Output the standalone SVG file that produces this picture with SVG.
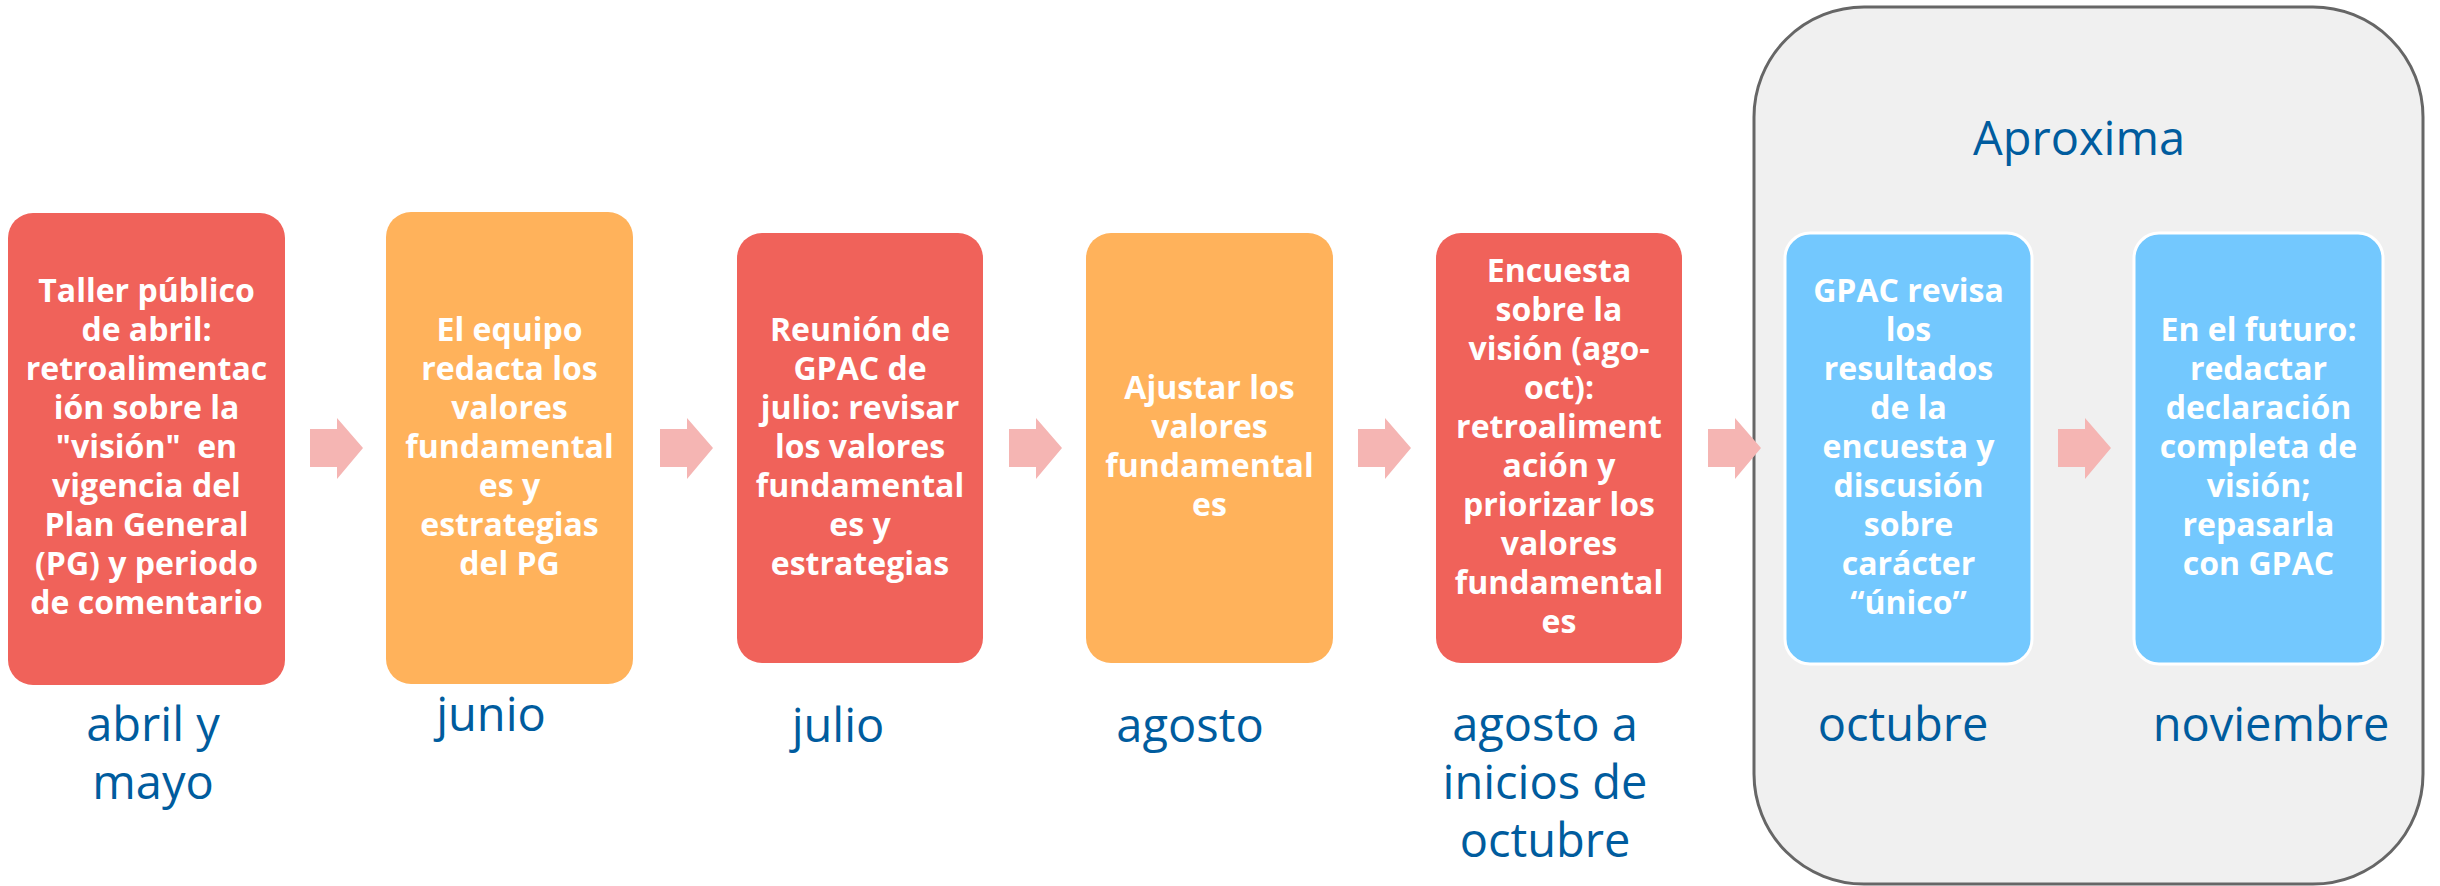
<svg xmlns="http://www.w3.org/2000/svg" xmlns:xlink="http://www.w3.org/1999/xlink" width="2440" height="886" viewBox="0 0 2440 886">
<style>
.red{fill:#f0625a}
.org{fill:#ffb25b}
.blu{fill:#73c8fe;stroke:#ffffff;stroke-width:3}
.bt{font-family:"Open Sans","Liberation Sans",sans-serif;font-weight:700;font-size:32px;fill:#ffffff;text-anchor:middle}
.mt{font-family:"Open Sans","Liberation Sans",sans-serif;font-weight:400;font-size:47px;fill:#005c9e;text-anchor:middle}
.arr{fill:#f5b5b3}
</style>
<defs>
<path id="arrow" d="M0,429 L27,429 L27,418 L53,448 L27,479 L27,467 L0,467 Z"/>
</defs>
<rect width="2440" height="886" fill="#ffffff"/>
<g id="group-aproxima">
<rect x="1754" y="7" width="669" height="877" rx="110" ry="110" fill="#f0f0f0" stroke="#666666" stroke-width="3"/>
<text class="mt" x="2079" y="155">Aproxima</text>
</g>
<g id="n1">
<rect class="red" x="8" y="213" width="277" height="472" rx="25"/>
<text class="bt" x="146.5" y="302"><tspan x="146.5" dy="0">Taller público</tspan><tspan x="146.5" dy="39">de abril:</tspan><tspan x="146.5" dy="39">retroalimentac</tspan><tspan x="146.5" dy="39">ión sobre la</tspan><tspan x="146.5" dy="39" xml:space="preserve">"visión"  en</tspan><tspan x="146.5" dy="39">vigencia del</tspan><tspan x="146.5" dy="39">Plan General</tspan><tspan x="146.5" dy="39">(PG) y periodo</tspan><tspan x="146.5" dy="39">de comentario</tspan></text>
<text class="mt" x="153" y="741"><tspan x="153" dy="0">abril y</tspan><tspan x="153" dy="58">mayo</tspan></text>
</g>
<g id="n2">
<rect class="org" x="386" y="212" width="247" height="472" rx="25"/>
<text class="bt" x="509.5" y="341"><tspan x="509.5" dy="0">El equipo</tspan><tspan x="509.5" dy="39">redacta los</tspan><tspan x="509.5" dy="39">valores</tspan><tspan x="509.5" dy="39">fundamental</tspan><tspan x="509.5" dy="39">es y</tspan><tspan x="509.5" dy="39">estrategias</tspan><tspan x="509.5" dy="39">del PG</tspan></text>
<text class="mt" x="491" y="731">junio</text>
</g>
<g id="n3">
<rect class="red" x="737" y="233" width="246" height="430" rx="25"/>
<text class="bt" x="860" y="341"><tspan x="860" dy="0">Reunión de</tspan><tspan x="860" dy="39">GPAC de</tspan><tspan x="860" dy="39">julio: revisar</tspan><tspan x="860" dy="39">los valores</tspan><tspan x="860" dy="39">fundamental</tspan><tspan x="860" dy="39">es y</tspan><tspan x="860" dy="39">estrategias</tspan></text>
<text class="mt" x="838" y="742">julio</text>
</g>
<g id="n4">
<rect class="org" x="1086" y="233" width="247" height="430" rx="25"/>
<text class="bt" x="1209.5" y="399"><tspan x="1209.5" dy="0">Ajustar los</tspan><tspan x="1209.5" dy="39">valores</tspan><tspan x="1209.5" dy="39">fundamental</tspan><tspan x="1209.5" dy="39">es</tspan></text>
<text class="mt" x="1190" y="742">agosto</text>
</g>
<g id="n5">
<rect class="red" x="1436" y="233" width="246" height="430" rx="25"/>
<text class="bt" x="1559" y="282"><tspan x="1559" dy="0">Encuesta</tspan><tspan x="1559" dy="39">sobre la</tspan><tspan x="1559" dy="39">visión (ago-</tspan><tspan x="1559" dy="39">oct):</tspan><tspan x="1559" dy="39">retroaliment</tspan><tspan x="1559" dy="39">ación y</tspan><tspan x="1559" dy="39">priorizar los</tspan><tspan x="1559" dy="39">valores</tspan><tspan x="1559" dy="39">fundamental</tspan><tspan x="1559" dy="39">es</tspan></text>
<text class="mt" x="1545" y="741"><tspan x="1545" dy="0">agosto a</tspan><tspan x="1545" dy="58">inicios de</tspan><tspan x="1545" dy="58">octubre</tspan></text>
</g>
<g id="n6">
<rect class="blu" x="1785" y="233" width="247" height="431" rx="25"/>
<text class="bt" x="1908.5" y="302"><tspan x="1908.5" dy="0">GPAC revisa</tspan><tspan x="1908.5" dy="39">los</tspan><tspan x="1908.5" dy="39">resultados</tspan><tspan x="1908.5" dy="39">de la</tspan><tspan x="1908.5" dy="39">encuesta y</tspan><tspan x="1908.5" dy="39">discusión</tspan><tspan x="1908.5" dy="39">sobre</tspan><tspan x="1908.5" dy="39">carácter</tspan><tspan x="1908.5" dy="39">“único”</tspan></text>
<text class="mt" x="1903" y="741">octubre</text>
</g>
<g id="n7">
<rect class="blu" x="2134" y="233" width="249" height="431" rx="25"/>
<text class="bt" x="2258.5" y="341"><tspan x="2258.5" dy="0">En el futuro:</tspan><tspan x="2258.5" dy="39">redactar</tspan><tspan x="2258.5" dy="39">declaración</tspan><tspan x="2258.5" dy="39">completa de</tspan><tspan x="2258.5" dy="39">visión;</tspan><tspan x="2258.5" dy="39">repasarla</tspan><tspan x="2258.5" dy="39">con GPAC</tspan></text>
<text class="mt" x="2271" y="741">noviembre</text>
</g>
<g id="connectors" class="arr">
<use xlink:href="#arrow" x="310"/>
<use xlink:href="#arrow" x="660"/>
<use xlink:href="#arrow" x="1009"/>
<use xlink:href="#arrow" x="1358"/>
<use xlink:href="#arrow" x="1708"/>
<use xlink:href="#arrow" x="2058"/>
</g>
</svg>
